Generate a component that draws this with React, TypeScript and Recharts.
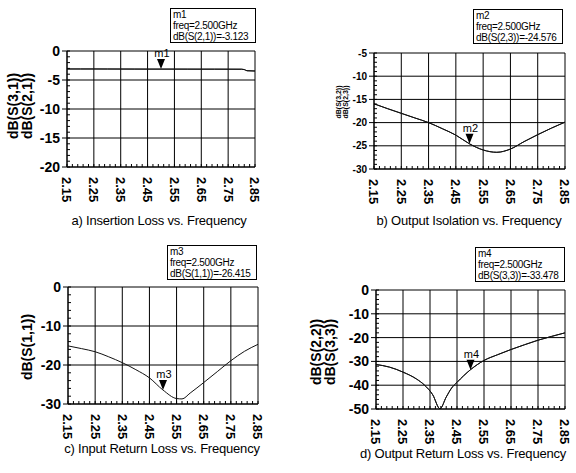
import React from "react";
import { ComposedChart, Line, XAxis, YAxis, CartesianGrid, ReferenceDot } from "recharts";

// frequency axis shared by all four plots (GHz)
const FREQ_TICKS = [2.15, 2.25, 2.35, 2.45, 2.55, 2.65, 2.75, 2.85];
const MARKER_FREQ = 2.5;

// a) insertion loss
const freqA = [2.15, 2.2, 2.25, 2.3, 2.35, 2.4, 2.45, 2.5, 2.55, 2.6, 2.65, 2.7, 2.75, 2.8, 2.81, 2.82, 2.85];
const s21A = [-3.1, -3.1, -3.1, -3.1, -3.11, -3.11, -3.12, -3.12, -3.12, -3.12, -3.13, -3.13, -3.13, -3.14, -3.2, -3.4, -3.45];
const s31A = [-3.1, -3.1, -3.1, -3.11, -3.11, -3.12, -3.12, -3.12, -3.12, -3.13, -3.13, -3.13, -3.14, -3.14, -3.2, -3.4, -3.45];

// b) output isolation
const freqB = [2.15, 2.2, 2.25, 2.3, 2.35, 2.4, 2.45, 2.5, 2.55, 2.6, 2.65, 2.7, 2.75, 2.8, 2.85];
const s32B = [-15.95, -17.0, -18.0, -19.0, -20.0, -21.3, -22.7, -24.58, -25.9, -26.4, -25.7, -24.1, -22.6, -21.2, -19.9];
const s23B = [-15.95, -17.0, -18.0, -19.0, -20.0, -21.3, -22.7, -24.58, -25.9, -26.4, -25.7, -24.1, -22.6, -21.2, -19.9];

// c) input return loss
const freqC = [2.15, 2.2, 2.25, 2.3, 2.35, 2.4, 2.45, 2.5, 2.55, 2.57, 2.6, 2.65, 2.7, 2.75, 2.8, 2.85];
const s11C = [-15.1, -15.8, -16.6, -17.9, -19.4, -21.2, -23.3, -26.42, -28.6, -28.7, -27.2, -24.5, -21.7, -18.9, -16.5, -14.7];

// d) output return loss
const freqD = [2.15, 2.2, 2.25, 2.3, 2.33, 2.36, 2.387, 2.41, 2.43, 2.45, 2.5, 2.55, 2.6, 2.65, 2.7, 2.75, 2.8, 2.85];
const s22D = [-31.3, -32.4, -34.5, -37.4, -40.0, -44.0, -49.9, -45.0, -41.2, -38.8, -33.48, -29.6, -27.2, -25.0, -23.0, -21.1, -19.5, -18.0];
const s33D = [-31.3, -32.4, -34.5, -37.4, -40.0, -44.0, -49.9, -45.0, -41.2, -38.8, -33.48, -29.6, -27.2, -25.0, -23.0, -21.1, -19.5, -18.0];

const FONT = "'Liberation Sans', Arial, sans-serif";
const W = 288;
const H = 236;
const XAXIS_H = 40;

function range(from: number, to: number, step: number): number[] {
  const out: number[] = [];
  const n = Math.round((to - from) / step);
  for (let i = 0; i <= n; i++) out.push(Number((from + i * step).toFixed(4)));
  return out;
}

const X_MINOR = range(2.15, 2.85, 0.02);

function FreqTick(props: any) {
  const { x, y, payload } = props;
  return (
    <text
      x={x}
      y={y + 2}
      transform={`rotate(90 ${x} ${y + 2})`}
      dy="0.35em"
      fontSize={13}
      fontWeight={700}
      fontFamily={FONT}
      fill="#000"
    >
      {Number(payload.value).toFixed(2)}
    </text>
  );
}

// minor axes: tick marks only, no labels
const NoLabel = () => <g />;

function markerShape(label: string) {
  return (props: any) => {
    const { cx, cy } = props;
    return (
      <g>
        <path d={`M${cx - 4},${cy - 10} L${cx + 4},${cy - 10} L${cx},${cy} Z`} fill="#000" />
        <text x={cx + 1} y={cy - 12} textAnchor="middle" fontSize={11} fontFamily={FONT} fill="#000">
          {label}
        </text>
      </g>
    );
  };
}

interface PanelProps {
  left: number;
  top: number;
  plot: { x0: number; y0: number; x1: number; y1: number };
  freq: number[];
  series: number[][];
  yDomain: [number, number];
  yTicks: number[];
  yMinorStep: number;
  yFont: number;
  marker: { name: string; value: number };
}

function Panel({ left, top, plot, freq, series, yDomain, yTicks, yMinorStep, yFont, marker }: PanelProps) {
  const data = freq.map((f, i) => {
    const row: Record<string, number> = { f };
    series.forEach((s, k) => (row[`s${k}`] = s[i]));
    return row;
  });
  const yMinor = range(yDomain[0], yDomain[1], yMinorStep);
  return (
    <div style={{ position: "absolute", left, top, width: W, height: H }}>
      <ComposedChart
        width={W}
        height={H}
        data={data}
        margin={{ top: plot.y0, right: W - plot.x1, bottom: H - plot.y1 - XAXIS_H, left: 0 }}
      >
        <CartesianGrid stroke="#000" strokeWidth={1} />
        <XAxis
          dataKey="f"
          type="number"
          domain={[2.15, 2.85]}
          ticks={FREQ_TICKS}
          interval={0}
          allowDataOverflow
          height={XAXIS_H}
          tick={<FreqTick />}
          tickLine={false}
          axisLine={{ stroke: "#000" }}
        />
        <XAxis
          xAxisId="minor"
          dataKey="f"
          type="number"
          domain={[2.15, 2.85]}
          ticks={X_MINOR}
          interval={0}
          allowDataOverflow
          mirror
          tick={NoLabel}
          tickSize={3}
          tickLine={{ stroke: "#000" }}
          axisLine={false}
        />
        <YAxis
          type="number"
          domain={yDomain}
          ticks={yTicks}
          interval={0}
          allowDataOverflow
          width={plot.x0}
          tickSize={5}
          tickLine={{ stroke: "#000" }}
          axisLine={{ stroke: "#000" }}
          tick={{ fontSize: yFont, fontWeight: 700, fontFamily: FONT, fill: "#000" }}
        />
        <YAxis
          yAxisId="minor"
          type="number"
          domain={yDomain}
          ticks={yMinor}
          interval={0}
          allowDataOverflow
          mirror
          tick={NoLabel}
          tickSize={3}
          tickLine={{ stroke: "#000" }}
          axisLine={false}
        />
        {series.map((_, k) => (
          <Line
            key={k}
            dataKey={`s${k}`}
            type="monotone"
            stroke="#111"
            strokeWidth={1}
            dot={false}
            isAnimationActive={false}
          />
        ))}
        <ReferenceDot x={MARKER_FREQ} y={marker.value} ifOverflow="visible" shape={markerShape(marker.name)} />
      </ComposedChart>
    </div>
  );
}

function MarkerBox({ x, y, w, h, name, expr, value }: { x: number; y: number; w: number; h: number; name: string; expr: string; value: number }) {
  return (
    <div
      style={{
        position: "absolute",
        left: x,
        top: y,
        minWidth: w,
        height: h,
        boxSizing: "border-box",
        border: "1px solid #000",
        background: "#fff",
        fontFamily: FONT,
        fontSize: 10,
        lineHeight: "11px",
        letterSpacing: -0.3,
        padding: "0 2px",
        whiteSpace: "nowrap",
        color: "#000",
      }}
    >
      <div>{name}</div>
      <div>freq=2.500GHz</div>
      <div>
        {expr}={value.toFixed(3)}
      </div>
    </div>
  );
}

function Caption({ cx, cy, text }: { cx: number; cy: number; text: string }) {
  return (
    <div
      style={{
        position: "absolute",
        left: cx - 120,
        top: cy - 8,
        width: 240,
        textAlign: "center",
        fontFamily: FONT,
        fontSize: 13,
        letterSpacing: -0.2,
        lineHeight: "16px",
        color: "#000",
      }}
    >
      {text}
    </div>
  );
}

function YTitle({ cx, cy, lines, size }: { cx: number; cy: number; lines: string[]; size: number }) {
  return (
    <div
      style={{
        position: "absolute",
        left: cx - 60,
        top: cy - size * lines.length * 0.5,
        width: 120,
        transform: "rotate(-90deg)",
        textAlign: "center",
        fontFamily: FONT,
        fontSize: size,
        fontWeight: 700,
        lineHeight: `${size}px`,
        color: "#000",
      }}
    >
      {lines.map((l) => (
        <div key={l}>{l}</div>
      ))}
    </div>
  );
}

export default function App() {
  return (
    <div style={{ position: "absolute", left: 0, top: 0, width: 576, height: 473, background: "#fff", overflow: "hidden" }}>
      <Panel
        left={0}
        top={0}
        plot={{ x0: 67, y0: 51, x1: 255, y1: 167 }}
        freq={freqA}
        series={[s31A, s21A]}
        yDomain={[-20, 0]}
        yTicks={[-20, -15, -10, -5, 0]}
        yMinorStep={1}
        yFont={14}
        marker={{ name: "m1", value: -3.123 }}
      />
      <Panel
        left={288}
        top={0}
        plot={{ x0: 86, y0: 53, x1: 277, y1: 169 }}
        freq={freqB}
        series={[s32B, s23B]}
        yDomain={[-30, -5]}
        yTicks={[-30, -25, -20, -15, -10, -5]}
        yMinorStep={1}
        yFont={10}
        marker={{ name: "m2", value: -24.576 }}
      />
      <Panel
        left={0}
        top={236}
        plot={{ x0: 68, y0: 51, x1: 258, y1: 168 }}
        freq={freqC}
        series={[s11C]}
        yDomain={[-30, 0]}
        yTicks={[-30, -20, -10, 0]}
        yMinorStep={2}
        yFont={14}
        marker={{ name: "m3", value: -26.415 }}
      />
      <Panel
        left={288}
        top={236}
        plot={{ x0: 88, y0: 54, x1: 277, y1: 173 }}
        freq={freqD}
        series={[s22D, s33D]}
        yDomain={[-50, 0]}
        yTicks={[-50, -40, -30, -20, -10, 0]}
        yMinorStep={2}
        yFont={14}
        marker={{ name: "m4", value: -33.478 }}
      />

      <MarkerBox x={170} y={8} w={86} h={35} name="m1" expr="dB(S(2,1))" value={-3.123} />
      <MarkerBox x={473} y={9} w={90} h={35} name="m2" expr="dB(S(2,3))" value={-24.576} />
      <MarkerBox x={167} y={245} w={90} h={35} name="m3" expr="dB(S(1,1))" value={-26.415} />
      <MarkerBox x={475} y={247} w={90} h={35} name="m4" expr="dB(S(3,3))" value={-33.478} />

      <YTitle cx={20} cy={106} lines={["dB(S(3,1))", "dB(S(2,1))"]} size={14} />
      <YTitle cx={342} cy={102} lines={["dB(S(3,2))", "dB(S(2,3))"]} size={7} />
      <YTitle cx={27} cy={347} lines={["dB(S(1,1))"]} size={14} />
      <YTitle cx={323} cy={352} lines={["dB(S(2,2))", "dB(S(3,3))"]} size={14} />

      <Caption cx={159} cy={221} text="a) Insertion Loss vs. Frequency" />
      <Caption cx={469} cy={221} text="b) Output Isolation vs. Frequency" />
      <Caption cx={162} cy={449} text="c) Input Return Loss vs. Frequency" />
      <Caption cx={463} cy={454} text="d) Output Return Loss vs. Frequency" />
    </div>
  );
}
